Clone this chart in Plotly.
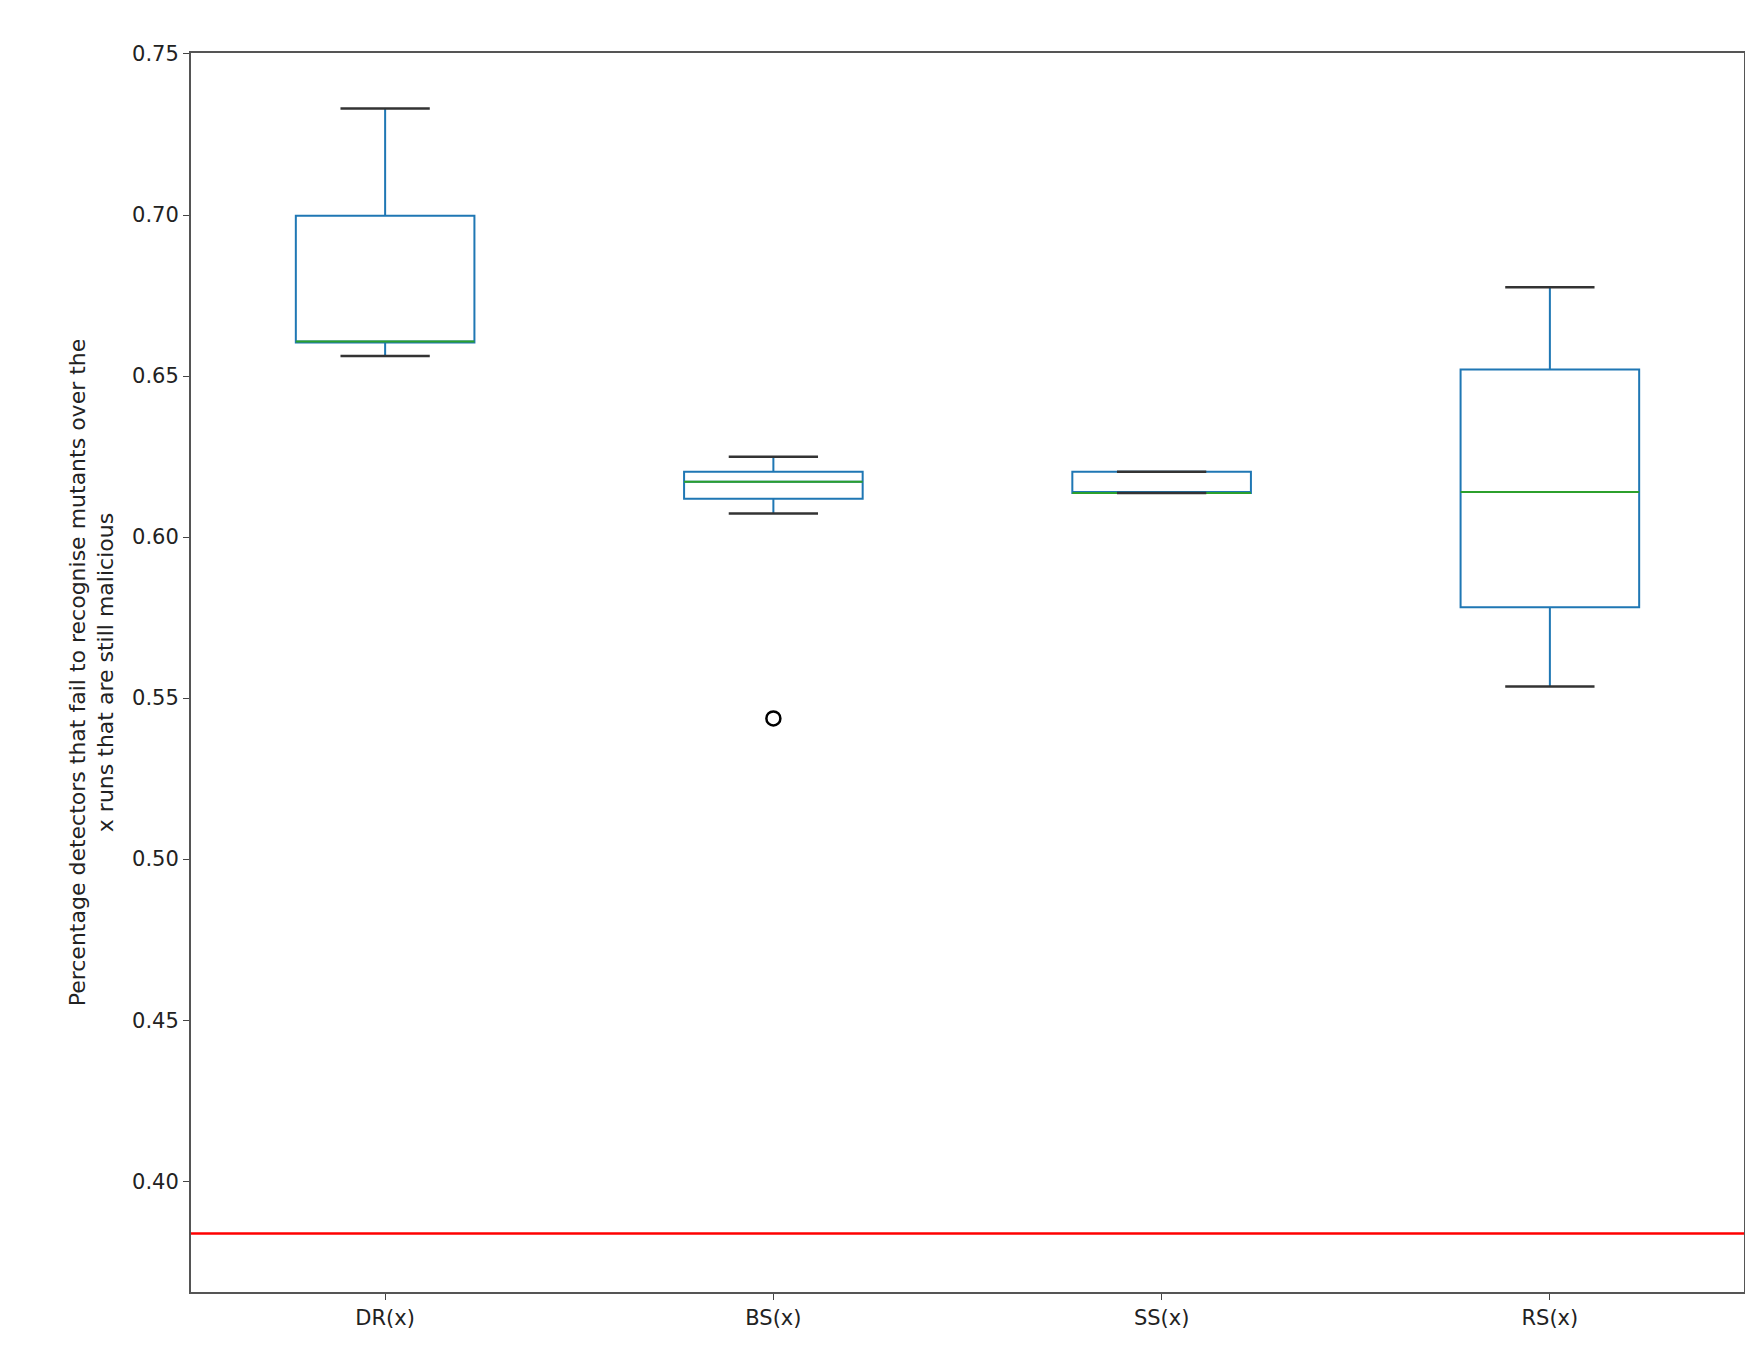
import plotly.graph_objects as go

categories = ["DR(x)", "BS(x)", "SS(x)", "RS(x)"]
lower = [0.6562, 0.6073, 0.6137, 0.5536]
q1 = [0.6604, 0.6119, 0.6137, 0.5782]
median = [0.6607, 0.6172, 0.6137, 0.6140]
q3 = [0.6998, 0.6203, 0.6203, 0.6520]
upper = [0.7331, 0.6249, 0.6203, 0.6776]
outlier_cat = [1]
outlier_val = [0.5437]
baseline = 0.3838

pos = list(range(len(categories)))
BW = 0.46
CW = 0.23
fig = go.Figure()
fig.add_trace(go.Box(x=pos, q1=q1, median=median, q3=q3, lowerfence=lower, upperfence=upper,
                     width=BW, whiskerwidth=0.0001, fillcolor="rgba(0,0,0,0)",
                     line=dict(color="#1f77b4", width=2), boxpoints=False, showlegend=False,
                     hoverinfo="skip"))
mx, my, cx, cy = [], [], [], []
for p, m, lo, hi in zip(pos, median, lower, upper):
    mx += [p - BW / 2, p + BW / 2, None]; my += [m, m, None]
    for v in (lo, hi):
        cx += [p - CW / 2, p + CW / 2, None]; cy += [v, v, None]
fig.add_trace(go.Scatter(x=mx, y=my, mode="lines", line=dict(color="#2ca02c", width=2), showlegend=False))
fig.add_trace(go.Scatter(x=cx, y=cy, mode="lines", line=dict(color="#333333", width=2.5), showlegend=False))
fig.add_trace(go.Scatter(x=outlier_cat, y=outlier_val, mode="markers",
                         marker=dict(symbol="circle-open", size=14, color="black", line=dict(width=2.5)),
                         showlegend=False))
fig.add_trace(go.Scatter(x=[-0.5, 3.5], y=[baseline, baseline], mode="lines",
                         line=dict(color="red", width=2.5), showlegend=False))

fig.update_layout(width=1753, height=1346, plot_bgcolor="white", paper_bgcolor="white",
                  margin=dict(l=183, r=17, t=45, b=62),
                  font=dict(family="DejaVu Sans", size=21, color="#222"))
fig.update_xaxes(range=[-0.5, 3.5], tickvals=pos, ticktext=categories, showgrid=False, zeroline=False,
                 showline=True, linecolor="#555", linewidth=2, mirror=True, ticks="outside", ticklen=6)
fig.update_yaxes(range=[0.3656, 0.7503], tickvals=[0.40, 0.45, 0.50, 0.55, 0.60, 0.65, 0.70, 0.75],
                 tickformat=".2f", showgrid=False, zeroline=False,
                 showline=True, linecolor="#555", linewidth=2, mirror=True, ticks="outside", ticklen=6,
                 title=dict(text="Percentage detectors that fail to recognise mutants over the<br>x runs that are still malicious",
                            font=dict(size=22), standoff=12))
fig.write_html("out.html")
